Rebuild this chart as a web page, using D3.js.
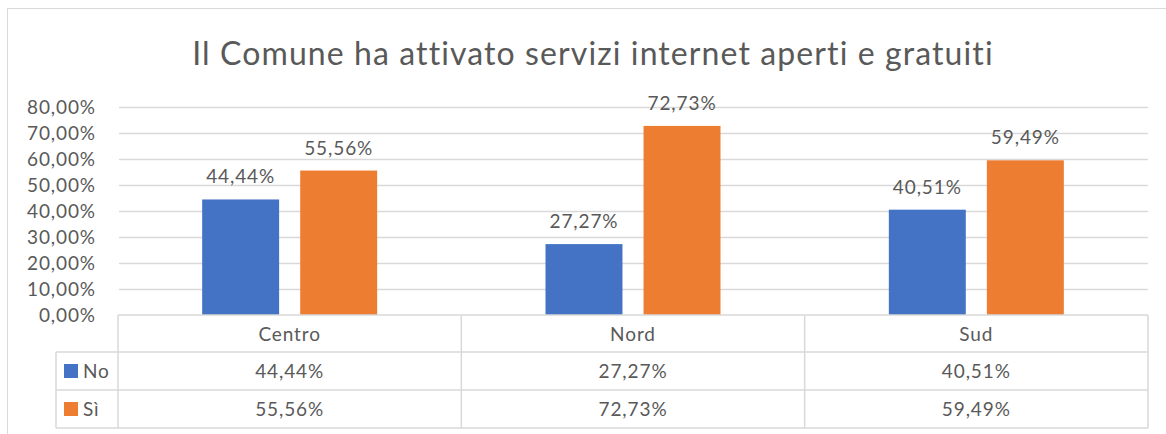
<!DOCTYPE html>
<html>
<head>
<meta charset="utf-8">
<script src="https://cdn.jsdelivr.net/npm/d3@7"></script>
<style>
  body { margin: 0; background: #fff; }
  text { font-family: Lato, "Open Sans", sans-serif; fill: #595959; font-variant-ligatures: none; }
</style>
</head>
<body>
<svg id="chart" width="1166" height="434"></svg>
<script>
// data
const categories = ['Centro', 'Nord', 'Sud'];
const seriesNames = ['No', 'Sì'];
const noValues = [44.44, 27.27, 40.51];
const siValues = [55.56, 72.73, 59.49];
const yTicks = [0, 10, 20, 30, 40, 50, 60, 70, 80];

const colors = ['#4472c4', '#ed7d31'];
const fmt = v => v.toFixed(2).replace('.', ',') + '%';
const labelSize = '19px', labelSpacing = '0.9px';

const svg = d3.select('#chart');

// outer frame
svg.append('rect')
  .attr('x', 7.5).attr('y', 8.5)
  .attr('width', 1180).attr('height', 440)
  .attr('fill', 'none').attr('stroke', '#d9d9d9');

// title
svg.append('text')
  .attr('x', 593).attr('y', 65)
  .attr('text-anchor', 'middle')
  .style('font-size', '32px')
  .style('letter-spacing', '1.1px')
  .text('Il Comune ha attivato servizi internet aperti e gratuiti');

const plotLeft = 118, plotRight = 1148, plotTop = 107, plotBottom = 315;

const x = d3.scaleBand().domain(categories).range([plotLeft, plotRight]);
const xInner = d3.scaleBand().domain(seriesNames)
  .range([x.bandwidth() / 2 - 87.5, x.bandwidth() / 2 + 87.5]).paddingInner(0.215);
const y = d3.scaleLinear().domain([0, 80]).range([plotBottom, plotTop]);

// gridlines
svg.append('g')
  .selectAll('line')
  .data(yTicks.filter(t => t > 0))
  .enter().append('line')
  .attr('x1', plotLeft + 1).attr('x2', plotRight)
  .attr('y1', d => y(d) + 0.5).attr('y2', d => y(d) + 0.5)
  .attr('stroke', '#d9d9d9').attr('stroke-width', 1.5);

// y axis labels
const yAxis = svg.append('g')
  .attr('transform', `translate(${plotLeft - 22},0)`)
  .call(d3.axisLeft(y).tickValues(yTicks).tickSize(0).tickPadding(0)
    .tickFormat(d => d.toFixed(2).replace('.', ',') + '%'));
yAxis.select('.domain').remove();
yAxis.selectAll('text')
  .style('font-size', labelSize)
  .style('letter-spacing', labelSpacing)
  .style('font-family', 'Lato, "Open Sans", sans-serif')
  .attr('fill', '#595959');

// bars
const rows = categories.map((c, i) => ({ cat: c, values: [noValues[i], siValues[i]] }));
const groups = svg.selectAll('.grp')
  .data(rows).enter().append('g')
  .attr('transform', d => `translate(${x(d.cat)},0)`);

groups.selectAll('rect')
  .data(d => d.values.map((v, j) => ({ name: seriesNames[j], v: v, j: j })))
  .enter().append('rect')
  .attr('x', d => xInner(d.name))
  .attr('y', d => y(d.v))
  .attr('width', xInner.bandwidth())
  .attr('height', d => y(0) - y(d.v))
  .attr('fill', d => colors[d.j]);

groups.selectAll('.lbl')
  .data(d => d.values.map((v, j) => ({ name: seriesNames[j], v: v })))
  .enter().append('text')
  .attr('x', d => xInner(d.name) + xInner.bandwidth() / 2)
  .attr('y', d => y(d.v) - 16)
  .attr('text-anchor', 'middle')
  .style('font-size', labelSize)
  .style('letter-spacing', labelSpacing)
  .text(d => fmt(d.v));

// data table
const tableLeft = 56;
const rowY = [315, 352, 390, 428];
const tbl = svg.append('g').attr('fill', 'none').attr('stroke', '#d9d9d9').attr('stroke-width', 1.5);
tbl.append('line').attr('x1', plotLeft).attr('x2', plotRight).attr('y1', rowY[0]).attr('y2', rowY[0]);
[1, 2, 3].forEach(r => {
  tbl.append('line').attr('x1', tableLeft).attr('x2', plotRight).attr('y1', rowY[r]).attr('y2', rowY[r]);
});
tbl.append('line').attr('x1', tableLeft).attr('x2', tableLeft).attr('y1', rowY[1]).attr('y2', rowY[3]);
categories.forEach(c => {
  tbl.append('line').attr('x1', x(c)).attr('x2', x(c)).attr('y1', rowY[0]).attr('y2', rowY[3]);
});
tbl.append('line').attr('x1', plotRight).attr('x2', plotRight).attr('y1', rowY[0]).attr('y2', rowY[3]);

// header row
svg.selectAll('.hdr')
  .data(categories).enter().append('text')
  .attr('x', d => x(d) + x.bandwidth() / 2)
  .attr('y', (rowY[0] + rowY[1]) / 2 + 7)
  .attr('text-anchor', 'middle')
  .style('font-size', labelSize)
  .style('letter-spacing', labelSpacing)
  .text(d => d);

// value rows with legend keys
[noValues, siValues].forEach((vals, r) => {
  const cy = (rowY[r + 1] + rowY[r + 2]) / 2;
  svg.append('rect')
    .attr('x', 64).attr('y', cy - 7)
    .attr('width', 14).attr('height', 14)
    .attr('fill', colors[r]);
  svg.append('text')
    .attr('x', 83).attr('y', cy + 7)
    .style('font-size', labelSize)
    .style('letter-spacing', labelSpacing)
    .text(seriesNames[r]);
  svg.selectAll('.v' + r)
    .data(vals).enter().append('text')
    .attr('x', (d, i) => x(categories[i]) + x.bandwidth() / 2)
    .attr('y', cy + 7)
    .attr('text-anchor', 'middle')
    .style('font-size', labelSize)
    .style('letter-spacing', labelSpacing)
    .text(d => fmt(d));
});
</script>
</body>
</html>
